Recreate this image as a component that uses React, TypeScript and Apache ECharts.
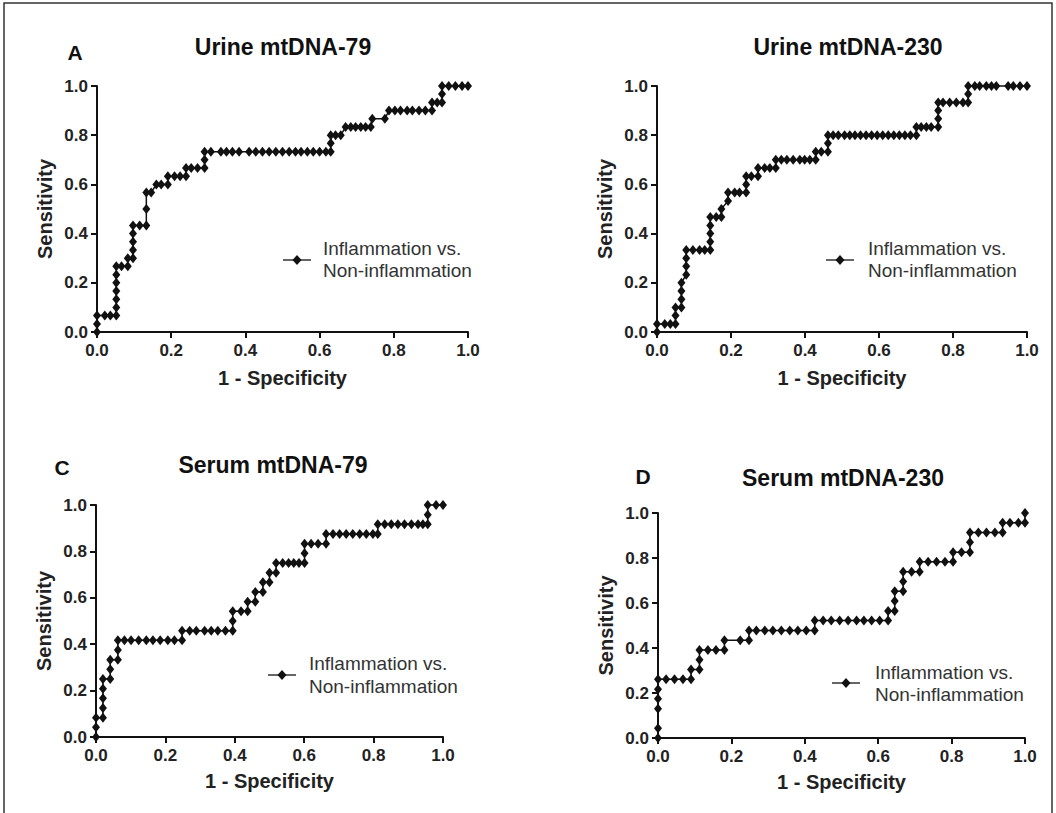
import React, { useEffect, useRef } from "react";
import * as echarts from "echarts";

// ---- Data (1 - Specificity, Sensitivity) ----
const urine79: number[][] = [
  [0, 0], [0, 0.033], [0, 0.067], [0.021, 0.067], [0.036, 0.067], [0.052, 0.067],
  [0.052, 0.1], [0.052, 0.133], [0.052, 0.167], [0.052, 0.2], [0.052, 0.233], [0.052, 0.267],
  [0.066, 0.267], [0.083, 0.267], [0.083, 0.3], [0.097, 0.3], [0.097, 0.333], [0.097, 0.367],
  [0.097, 0.4], [0.097, 0.433], [0.115, 0.433], [0.133, 0.433], [0.133, 0.5], [0.133, 0.567],
  [0.146, 0.567], [0.16, 0.6], [0.173, 0.6], [0.191, 0.6], [0.191, 0.633], [0.209, 0.633],
  [0.224, 0.633], [0.24, 0.633], [0.24, 0.667], [0.254, 0.667], [0.271, 0.667], [0.29, 0.667],
  [0.29, 0.7], [0.29, 0.733], [0.307, 0.733], [0.334, 0.733], [0.349, 0.733], [0.365, 0.733],
  [0.383, 0.733], [0.41, 0.733], [0.428, 0.733], [0.446, 0.733], [0.464, 0.733], [0.482, 0.733],
  [0.5, 0.733], [0.518, 0.733], [0.535, 0.733], [0.55, 0.733], [0.567, 0.733], [0.583, 0.733],
  [0.6, 0.733], [0.617, 0.733], [0.63, 0.733], [0.63, 0.767], [0.63, 0.8], [0.643, 0.8],
  [0.657, 0.8], [0.67, 0.833], [0.684, 0.833], [0.697, 0.833], [0.711, 0.833], [0.724, 0.833],
  [0.738, 0.833], [0.742, 0.867], [0.776, 0.867], [0.787, 0.9], [0.803, 0.9], [0.818, 0.9],
  [0.836, 0.9], [0.85, 0.9], [0.868, 0.9], [0.885, 0.9], [0.903, 0.9], [0.903, 0.933],
  [0.917, 0.933], [0.93, 0.933], [0.93, 0.967], [0.93, 1], [0.948, 1], [0.966, 1], [0.984, 1], [1, 1],
];

const urine230: number[][] = [
  [0, 0], [0, 0.033], [0.021, 0.033], [0.036, 0.033], [0.05, 0.033], [0.05, 0.067], [0.05, 0.1],
  [0.066, 0.1], [0.066, 0.133], [0.066, 0.167], [0.066, 0.2], [0.079, 0.233], [0.079, 0.267],
  [0.079, 0.3], [0.079, 0.333], [0.097, 0.333], [0.115, 0.333], [0.129, 0.333], [0.144, 0.333],
  [0.144, 0.367], [0.144, 0.4], [0.144, 0.433], [0.144, 0.467], [0.16, 0.467], [0.174, 0.467],
  [0.174, 0.5], [0.192, 0.533], [0.192, 0.567], [0.21, 0.567], [0.223, 0.567], [0.241, 0.567],
  [0.241, 0.6], [0.241, 0.633], [0.255, 0.633], [0.273, 0.633], [0.273, 0.667], [0.291, 0.667],
  [0.305, 0.667], [0.321, 0.667], [0.321, 0.7], [0.336, 0.7], [0.351, 0.7], [0.368, 0.7],
  [0.386, 0.7], [0.399, 0.7], [0.413, 0.7], [0.429, 0.7], [0.429, 0.733], [0.444, 0.733],
  [0.462, 0.733], [0.462, 0.767], [0.462, 0.8], [0.476, 0.8], [0.49, 0.8], [0.507, 0.8],
  [0.521, 0.8], [0.535, 0.8], [0.55, 0.8], [0.565, 0.8], [0.58, 0.8], [0.595, 0.8], [0.61, 0.8],
  [0.625, 0.8], [0.64, 0.8], [0.655, 0.8], [0.67, 0.8], [0.685, 0.8], [0.701, 0.8],
  [0.701, 0.833], [0.714, 0.833], [0.728, 0.833], [0.741, 0.833], [0.76, 0.833], [0.76, 0.867],
  [0.76, 0.9], [0.76, 0.933], [0.773, 0.933], [0.791, 0.933], [0.809, 0.933], [0.827, 0.933],
  [0.841, 0.933], [0.841, 0.967], [0.841, 1], [0.859, 1], [0.872, 1], [0.89, 1], [0.904, 1],
  [0.917, 1], [0.949, 1], [0.963, 1], [0.981, 1], [1, 1],
];

const serum79: number[][] = [
  [0, 0], [0, 0.042], [0, 0.083], [0.02, 0.083], [0.02, 0.125], [0.02, 0.167], [0.02, 0.208],
  [0.02, 0.25], [0.041, 0.25], [0.041, 0.292], [0.041, 0.333], [0.063, 0.333], [0.063, 0.375],
  [0.063, 0.417], [0.082, 0.417], [0.101, 0.417], [0.123, 0.417], [0.145, 0.417], [0.164, 0.417],
  [0.185, 0.417], [0.207, 0.417], [0.226, 0.417], [0.248, 0.417], [0.248, 0.458], [0.27, 0.458],
  [0.289, 0.458], [0.313, 0.458], [0.332, 0.458], [0.351, 0.458], [0.373, 0.458], [0.394, 0.458],
  [0.394, 0.5], [0.394, 0.542], [0.418, 0.542], [0.437, 0.542], [0.437, 0.583], [0.459, 0.583],
  [0.459, 0.625], [0.481, 0.625], [0.481, 0.667], [0.5, 0.667], [0.5, 0.708], [0.519, 0.708],
  [0.519, 0.75], [0.538, 0.75], [0.555, 0.75], [0.57, 0.75], [0.585, 0.75], [0.601, 0.75],
  [0.601, 0.792], [0.601, 0.833], [0.62, 0.833], [0.64, 0.833], [0.663, 0.833], [0.663, 0.875],
  [0.683, 0.875], [0.702, 0.875], [0.721, 0.875], [0.74, 0.875], [0.76, 0.875], [0.779, 0.875],
  [0.798, 0.875], [0.812, 0.875], [0.812, 0.917], [0.832, 0.917], [0.851, 0.917], [0.87, 0.917],
  [0.889, 0.917], [0.909, 0.917], [0.928, 0.917], [0.942, 0.917], [0.956, 0.917], [0.956, 0.958],
  [0.956, 1], [0.98, 1], [1, 1],
];

const serum230: number[][] = [
  [0, 0], [0, 0.043], [0, 0.13], [0, 0.174], [0, 0.217], [0, 0.261], [0.022, 0.261],
  [0.045, 0.261], [0.068, 0.261], [0.09, 0.261], [0.09, 0.304], [0.113, 0.304], [0.113, 0.348],
  [0.113, 0.391], [0.136, 0.391], [0.158, 0.391], [0.181, 0.391], [0.181, 0.435], [0.224, 0.435],
  [0.248, 0.435], [0.248, 0.478], [0.268, 0.478], [0.291, 0.478], [0.313, 0.478], [0.336, 0.478],
  [0.359, 0.478], [0.381, 0.478], [0.404, 0.478], [0.427, 0.478], [0.427, 0.522], [0.45, 0.522],
  [0.472, 0.522], [0.495, 0.522], [0.518, 0.522], [0.541, 0.522], [0.561, 0.522], [0.582, 0.522],
  [0.604, 0.522], [0.627, 0.522], [0.627, 0.565], [0.645, 0.565], [0.645, 0.609], [0.645, 0.652],
  [0.668, 0.652], [0.668, 0.696], [0.668, 0.739], [0.691, 0.739], [0.713, 0.739], [0.713, 0.783],
  [0.736, 0.783], [0.759, 0.783], [0.782, 0.783], [0.804, 0.783], [0.804, 0.826], [0.827, 0.826],
  [0.85, 0.826], [0.85, 0.87], [0.85, 0.913], [0.873, 0.913], [0.895, 0.913], [0.918, 0.913],
  [0.939, 0.913], [0.939, 0.957], [0.959, 0.957], [0.982, 0.957], [1, 0.957], [1, 1],
];

const panelTitles = ["Urine mtDNA-79", "Urine mtDNA-230", "Serum mtDNA-79", "Serum mtDNA-230"];
const panelLetters = ["A", "", "C", "D"];
const seriesName = "Inflammation vs.\nNon-inflammation";
const legendLines = ["Inflammation vs.", "Non-inflammation"];
const xAxisName = "1 - Specificity";
const yAxisName = "Sensitivity";

// ---- Layout (pixels) ----
const grids = [
  { left: 97, top: 86, width: 371, height: 246 },
  { left: 657, top: 86, width: 370, height: 246 },
  { left: 96, top: 505, width: 347, height: 232 },
  { left: 658, top: 513, width: 367, height: 225 },
];
const titlePos = [
  [283, 47], [848, 47], [273, 465], [843, 478],
];
const letterPos = [
  [75, 52], [0, 0], [62, 467], [643, 476],
];
const legendPos = [
  { lx: 297, ly: 260, tx: 323, ty1: 248, ty2: 270 },
  { lx: 840, ly: 260, tx: 868, ty1: 248, ty2: 270 },
  { lx: 282, ly: 675, tx: 309, ty1: 663, ty2: 686 },
  { lx: 846, ly: 683, tx: 875, ty1: 672, ty2: 694 },
];

const FONT = '"Liberation Sans", Arial, Helvetica, sans-serif';
const allData = [urine79, urine230, serum79, serum230];

export default function App() {
  const ref = useRef<HTMLDivElement>(null);
  useEffect(() => {
    if (!ref.current) return;
    const chart = echarts.init(ref.current, null, { renderer: "svg" });

    const xAxes = grids.map((_, i) => ({
      gridIndex: i,
      type: "value",
      min: 0,
      max: 1,
      interval: 0.2,
      name: xAxisName,
      nameLocation: "middle",
      nameGap: i < 2 ? 36 : 34,
      nameTextStyle: { fontFamily: FONT, fontWeight: "bold", fontSize: 20, color: "#222" },
      axisLine: { show: true, onZero: false, lineStyle: { color: "#111", width: 2 } },
      axisTick: { show: true, length: 6, lineStyle: { color: "#111", width: 2 } },
      axisLabel: {
        margin: 10,
        fontFamily: FONT,
        fontWeight: "bold",
        fontSize: 17,
        color: "#222",
        formatter: (v: number) => v.toFixed(1),
      },
      splitLine: { show: false },
    }));
    const yAxes = grids.map((_, i) => ({
      gridIndex: i,
      type: "value",
      min: 0,
      max: 1,
      interval: 0.2,
      name: yAxisName,
      nameLocation: "middle",
      nameGap: 42,
      nameTextStyle: { fontFamily: FONT, fontWeight: "bold", fontSize: 20, color: "#222" },
      axisLine: { show: true, onZero: false, lineStyle: { color: "#111", width: 2 } },
      axisTick: { show: true, length: 6, lineStyle: { color: "#111", width: 2 } },
      axisLabel: {
        margin: 9,
        fontFamily: FONT,
        fontWeight: "bold",
        fontSize: 17,
        color: "#222",
        formatter: (v: number) => v.toFixed(1),
      },
      splitLine: { show: false },
    }));

    const series = allData.map((d, i) => ({
      name: seriesName,
      type: "line",
      xAxisIndex: i,
      yAxisIndex: i,
      data: d,
      symbol: "diamond",
      symbolSize: [8, 10],
      showAllSymbol: true,
      clip: false,
      lineStyle: { color: "#111", width: 1.5 },
      itemStyle: { color: "#111" },
    }));

    const graphics: any[] = [
      {
        type: "rect",
        shape: { x: 4, y: 3, width: 1048, height: 840 },
        style: { fill: "none", stroke: "#333", lineWidth: 1.5 },
      },
    ];
    panelTitles.forEach((t, i) => {
      graphics.push({
        type: "text",
        x: titlePos[i][0],
        y: titlePos[i][1],
        style: {
          text: t,
          font: `bold 23px ${FONT}`,
          fill: "#111",
          align: "center",
          verticalAlign: "middle",
        },
      });
      if (panelLetters[i]) {
        graphics.push({
          type: "text",
          x: letterPos[i][0],
          y: letterPos[i][1],
          style: {
            text: panelLetters[i],
            font: `bold 21px ${FONT}`,
            fill: "#111",
            align: "center",
            verticalAlign: "middle",
          },
        });
      }
      const lp = legendPos[i];
      graphics.push({
        type: "line",
        shape: { x1: lp.lx - 14, y1: lp.ly, x2: lp.lx + 14, y2: lp.ly },
        style: { stroke: "#333", lineWidth: 1.5 },
      });
      graphics.push({
        type: "polygon",
        shape: {
          points: [
            [lp.lx, lp.ly - 5],
            [lp.lx + 4.5, lp.ly],
            [lp.lx, lp.ly + 5],
            [lp.lx - 4.5, lp.ly],
          ],
        },
        style: { fill: "#111" },
      });
      graphics.push({
        type: "text",
        x: lp.tx,
        y: lp.ty1,
        style: {
          text: legendLines[0],
          font: `19px ${FONT}`,
          fill: "#333",
          align: "left",
          verticalAlign: "middle",
        },
      });
      graphics.push({
        type: "text",
        x: lp.tx,
        y: lp.ty2,
        style: {
          text: legendLines[1],
          font: `19px ${FONT}`,
          fill: "#333",
          align: "left",
          verticalAlign: "middle",
        },
      });
    });

    chart.setOption({
      animation: false,
      backgroundColor: "#ffffff",
      grid: grids.map((g) => ({ ...g, containLabel: false })),
      xAxis: xAxes,
      yAxis: yAxes,
      series,
      graphic: graphics,
    });
    return () => chart.dispose();
  }, []);

  return (
    <div
      ref={ref}
      style={{ position: "absolute", left: 0, top: 0, width: 1056, height: 813, background: "#fff" }}
    />
  );
}
